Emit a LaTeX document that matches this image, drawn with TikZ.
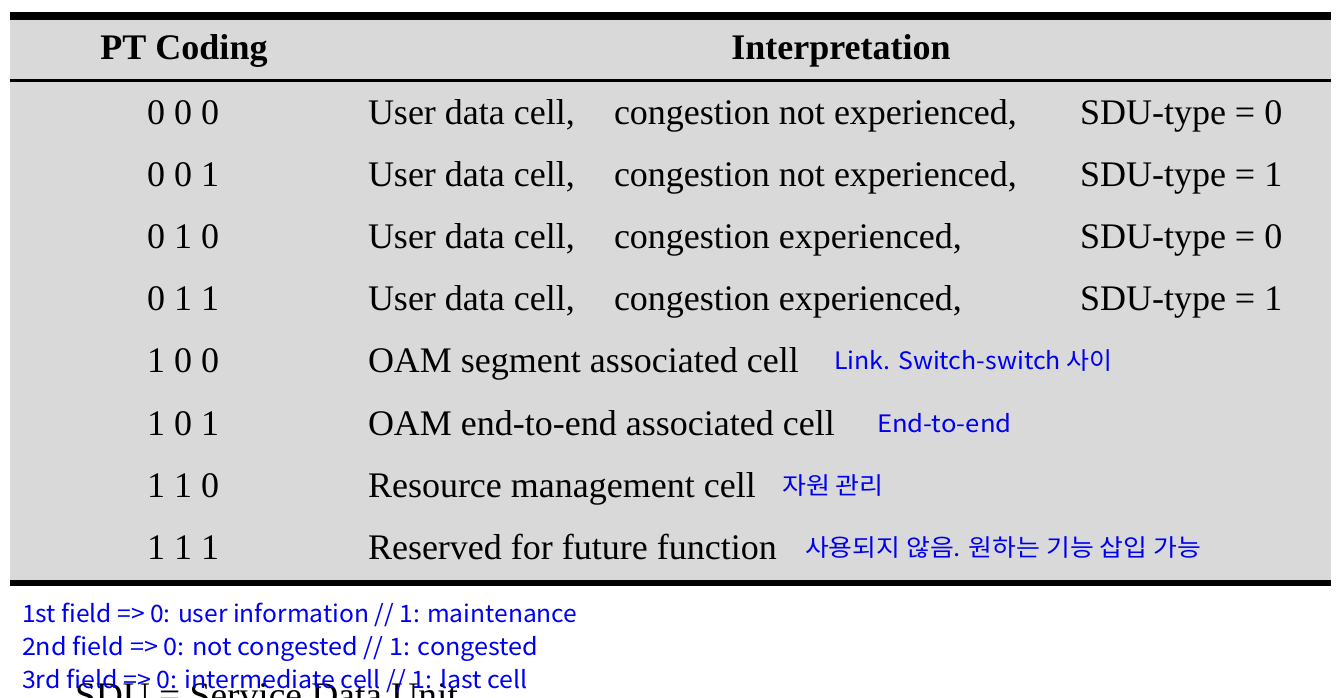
\documentclass[tikz,border=0pt]{standalone}
\usepackage{graphicx}
\usepackage{fontspec}
\setmainfont{Liberation Serif}
\newfontfamily\kr{Noto Sans CJK KR}
\definecolor{tablegray}{RGB}{217,217,217}
\definecolor{noteblue}{RGB}{0,0,240}
\newcommand\widen[2]{\scalebox{#1}[1]{#2}}
\begin{document}
\begin{tikzpicture}[x=1pt,y=-1pt,
  cell/.style={inner sep=0pt,outer sep=0pt,font=\fontsize{36}{40}\selectfont,text=black},
  head/.style={cell,font=\fontsize{36}{40}\selectfont\bfseries},
  note/.style={inner sep=0pt,outer sep=0pt,anchor=base west,font=\kr\fontsize{24}{28}\selectfont,text=noteblue},
  rulebar/.style={fill=black,draw=none}]
\clip (0,0) rectangle (1344,698);
\fill[white] (0,0) rectangle (1344,698);
% table background and rules
\fill[tablegray] (10,12) rectangle (1331,585);
\fill[rulebar] (10,12) rectangle (1331,20);
\fill[rulebar] (10,79) rectangle (1331,82.5);
\fill[rulebar] (10,580) rectangle (1331,586);
% header
\node[head,anchor=base] (hcode) at (184,60) {PT Coding};
\node[head,anchor=base] (hint) at (841,60) {Interpretation};
% rows
\foreach \i/\code in {0/0 0 0,1/0 0 1,2/0 1 0,3/0 1 1,4/1 0 0,5/1 0 1,6/1 1 0,7/1 1 1}{
  \node[cell,anchor=base] (code\i) at (183,{124.3+62.15*\i}) {\code};
}
\node[cell,anchor=base west] (a0) at (368,124.3) {User data cell,};
\node[cell,anchor=base west] (b0) at (614,124.3) {congestion not experienced,};
\node[cell,anchor=base west] (c0) at (1080,124.3) {SDU-type = 0};
\node[cell,anchor=base west] (a1) at (368,186.45) {User data cell,};
\node[cell,anchor=base west] (b1) at (614,186.45) {congestion not experienced,};
\node[cell,anchor=base west] (c1) at (1080,186.45) {SDU-type = 1};
\node[cell,anchor=base west] (a2) at (368,248.6) {User data cell,};
\node[cell,anchor=base west] (b2) at (614,248.6) {congestion experienced,};
\node[cell,anchor=base west] (c2) at (1080,248.6) {SDU-type = 0};
\node[cell,anchor=base west] (a3) at (368,310.75) {User data cell,};
\node[cell,anchor=base west] (b3) at (614,310.75) {congestion experienced,};
\node[cell,anchor=base west] (c3) at (1080,310.75) {SDU-type = 1};
\node[cell,anchor=base west] (a4) at (368,372.9) {OAM segment associated cell};
\node[cell,anchor=base west] (a5) at (368,435.05) {OAM end-to-end associated cell};
\node[cell,anchor=base west] (a6) at (368,497.2) {Resource management cell};
\node[cell,anchor=base west] (a7) at (368,559.35) {Reserved for future function};
% blue annotations
\node[note] (n4) at (834,369) {\widen{1.04}{Link. Switch-switch 사이}};
\node[note] (n5) at (877,432) {\widen{1.07}{End-to-end}};
\node[note] (n6) at (782,494) {\widen{1.087}{자원 관리}};
\node[note] (n7) at (805,556) {\widen{1.08}{사용되지 않음. 원하는 기능 삽입 가능}};
% partially hidden line below
\node[cell,anchor=base west] (sdu) at (75,707) {\widen{1.04}{SDU = Service Data Unit}};
% field notes
\node[note] (f1) at (22,622) {\widen{1.024}{1st field => 0: user information // 1: maintenance}};
\node[note] (f2) at (22,655) {\widen{1.05}{2nd field => 0: not congested // 1: congested}};
\node[note] (f3) at (22,688) {\widen{1.04}{3rd field => 0: intermediate cell // 1: last cell}};
\end{tikzpicture}
\end{document}
